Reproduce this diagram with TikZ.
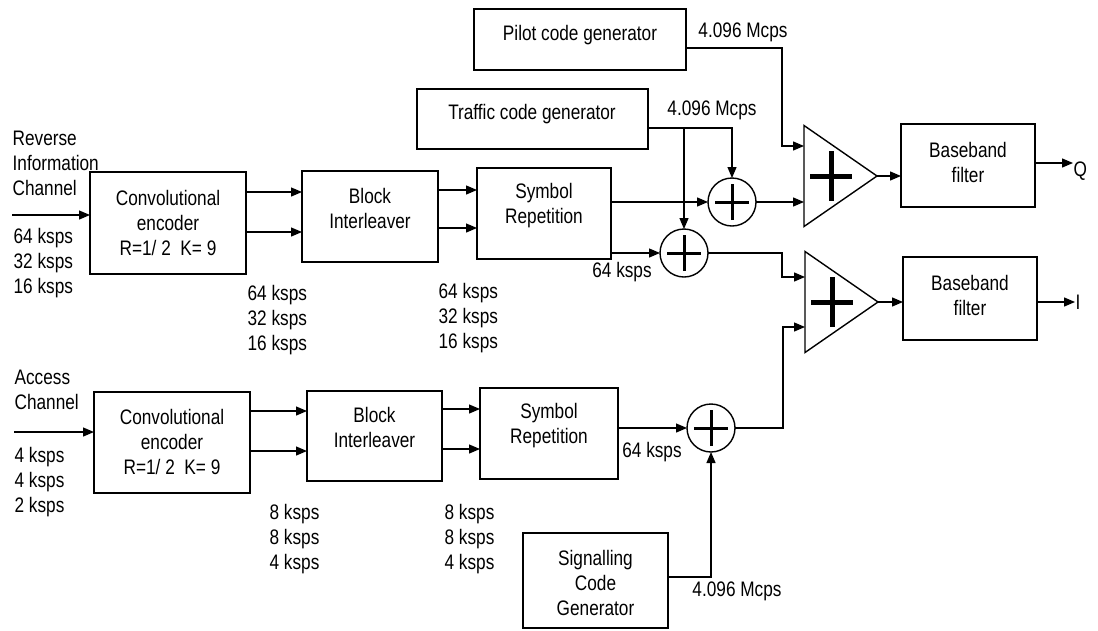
\documentclass[tikz,border=0pt]{standalone}
\usepackage{fontspec}
\setmainfont{Liberation Sans}[FakeStretch=0.82]
\usetikzlibrary{arrows.meta,shapes.geometric,calc}
\begin{document}
\begin{tikzpicture}[x=1pt,y=-1pt,
  line width=1.3pt,
  box/.style={draw,line width=1.4pt,inner sep=0pt,outer sep=0pt},
  txt/.style={font=\fontsize{21}{25}\selectfont,align=center,inner sep=0pt},
  lbl/.style={font=\fontsize{21}{25}\selectfont,align=left,inner sep=0pt,anchor=west},
  arr/.style={-{Triangle[length=11pt,width=9pt]}},
  adder/.style={draw,circle,minimum size=48pt,inner sep=0pt,outer sep=0pt,line width=1.4pt},
  amp/.style={draw,isosceles triangle,isosceles triangle stretches,minimum width=101pt,minimum height=73pt,inner sep=0pt,outer sep=0pt,anchor=apex,line width=1.4pt},
  plus/.style={line width=3pt},
  bigplus/.style={line width=5pt},
]
\useasboundingbox (0,0) rectangle (1098,630);

% boxes
\node[box,minimum width=212pt,minimum height=61pt] (pilot) at (580,39.5) {};
\node[txt] (pilott) at (580,35) {Pilot code generator};
\node[box,minimum width=231pt,minimum height=60pt] (traffic) at (532.5,119) {};
\node[txt] (traffict) at (532,114) {Traffic code generator};

\node[box,minimum width=156pt,minimum height=102pt] (conv1) at (168,223) {};
\node[txt] (conv1t) at (168,223) {Convolutional\\encoder\\R=1/ 2\ \ K= 9};
\node[box,minimum width=136pt,minimum height=91pt] (block1) at (370,216.5) {};
\node[txt] (block1t) at (370,208) {Block\\Interleaver};
\node[box,minimum width=134pt,minimum height=91pt] (sym1) at (544,213.5) {};
\node[txt] (sym1t) at (544,206) {Symbol\\Repetition};

\node[box,minimum width=156pt,minimum height=101pt] (conv2) at (172,442.5) {};
\node[txt] (conv2t) at (172,441.5) {Convolutional\\encoder\\R=1/ 2\ \ K= 9};
\node[box,minimum width=135pt,minimum height=90pt] (block2) at (374.5,436) {};
\node[txt] (block2t) at (374.5,427) {Block\\Interleaver};
\node[box,minimum width=138pt,minimum height=91pt] (sym2) at (549,433.5) {};
\node[txt] (sym2t) at (549,426) {Symbol\\Repetition};

\node[box,minimum width=145pt,minimum height=95pt] (sig) at (595.5,580.5) {};
\node[txt] (sigt) at (595.5,583) {Signalling\\Code\\Generator};

\node[box,minimum width=134pt,minimum height=83pt] (bbq) at (968,165.5) {};
\node[txt] (bbqt) at (968,162) {Baseband\\filter};
\node[box,minimum width=134pt,minimum height=83pt] (bbi) at (970,298.5) {};
\node[txt] (bbit) at (970,295) {Baseband\\filter};

% adders
\node[adder] (a1) at (732,202) {};
\node[adder] (a2) at (684,253) {};
\node[adder] (a3) at (711,428) {};
\foreach \n in {a1,a2,a3} {
  \draw[plus] ([xshift=-17pt]\n.center) -- ([xshift=17pt]\n.center);
  \draw[plus] ([yshift=-18pt]\n.center) -- ([yshift=18pt]\n.center);
}

% summing amplifiers
\node[amp] (tq) at (877,176) {};
\node[amp] (ti) at (878,302) {};
\foreach \n in {tq,ti} {
  \draw[bigplus] ($(\n.apex)+(-67,0)$) -- ($(\n.apex)+(-25,0)$);
  \draw[bigplus] ($(\n.apex)+(-46,-25)$) -- ($(\n.apex)+(-46,25)$);
}

% labels
\node[lbl] (revt) at (12,163) {Reverse\\Information\\Channel};
\node[lbl] (r1) at (13,263) {64 ksps\\32 ksps\\16 ksps};
\node[lbl] (r2) at (247,320) {64 ksps\\32 ksps\\16 ksps};
\node[lbl] (r3) at (438,318) {64 ksps\\32 ksps\\16 ksps};
\node[lbl] (acct) at (14,389.5) {Access\\Channel};
\node[lbl] (r4) at (14,482) {4 ksps\\4 ksps\\2 ksps};
\node[lbl] (r5) at (269,539) {8 ksps\\8 ksps\\4 ksps};
\node[lbl] (r6) at (444,539) {8 ksps\\8 ksps\\4 ksps};
\node[txt] (k64a) at (622,272) {64 ksps};
\node[txt] (k64b) at (652,452) {64 ksps};
\node[txt] (mc1) at (743,32) {4.096 Mcps};
\node[txt] (mc2) at (712,110) {4.096 Mcps};
\node[txt] (mc3) at (737,591) {4.096 Mcps};
\node[lbl] (qo) at (1073,171) {Q};
\node[lbl] (io) at (1075,302) {I};

\coordinate (rin) at (12,215);
\coordinate (ain) at (14,432);

% upper chain
\draw[arr] (rin) -- (conv1.west |- rin);
\draw[arr] (conv1.east |- 0,192) -- (block1.west |- 0,192);
\draw[arr] (conv1.east |- 0,232) -- (block1.west |- 0,232);
\draw[arr] (block1.east |- 0,190) -- (sym1.west |- 0,190);
\draw[arr] (block1.east |- 0,228) -- (sym1.west |- 0,228);
\draw[arr] (sym1.east |- a1) -- (a1.west);
\draw[arr] (sym1.east |- a2) -- (a2.west);
\draw[arr] (traffic.east |- 0,128) -| (a1.north);
\draw[arr] (a2.north |- 0,128) -- (a2.north);
\draw[arr] (pilot.east |- 0,48) -- (782,48) |- (tq.west |- 0,146);
\draw[arr] (a1.east) -- (tq.west |- a1);
\draw[arr] (a2.east) -- (782,253) |- (ti.west |- 0,277);
\draw[arr] (tq.apex) -- (bbq.west |- tq.apex);
\draw[arr] (ti.apex) -- (bbi.west |- ti.apex);
\draw[arr] (bbq.east |- 0,163) -- (qo.west |- 0,163);
\draw[arr] (bbi.east |- ti.apex) -- (io.west);

% lower chain
\draw[arr] (ain) -- (conv2.west |- ain);
\draw[arr] (conv2.east |- 0,411) -- (block2.west |- 0,411);
\draw[arr] (conv2.east |- 0,451) -- (block2.west |- 0,451);
\draw[arr] (block2.east |- 0,409) -- (sym2.west |- 0,409);
\draw[arr] (block2.east |- 0,449) -- (sym2.west |- 0,449);
\draw[arr] (sym2.east |- a3) -- (a3.west);
\draw[arr] (sig.east |- 0,577) -| (a3.south);
\draw[arr] (a3.east) -- (783,428) |- (ti.west |- 0,327);
\end{tikzpicture}
\end{document}
